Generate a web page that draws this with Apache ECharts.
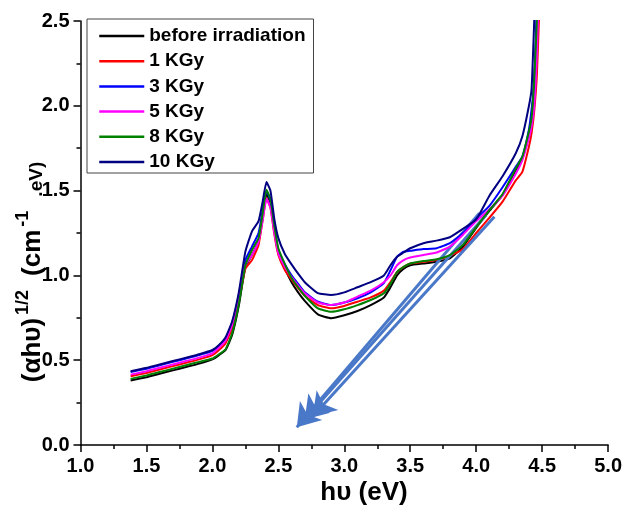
<!DOCTYPE html>
<html>
<head>
<meta charset="utf-8">
<script src="https://cdn.jsdelivr.net/npm/echarts@6/dist/echarts.min.js"></script>
<style>
  html, body { margin: 0; padding: 0; background: #fff; }
  #chart { width: 625px; height: 506px; }
</style>
</head>
<body>
<div id="chart"></div>
<script>
// Photon energy (eV)
const energy = [1.38, 1.5, 1.6, 1.7, 1.8, 1.9, 2.0, 2.05, 2.1, 2.15, 2.2, 2.25, 2.3, 2.35, 2.38, 2.41, 2.44, 2.47, 2.5, 2.55, 2.6, 2.65, 2.7, 2.8, 2.9, 3.0, 3.1, 3.2, 3.3, 3.35, 3.4, 3.45, 3.5, 3.6, 3.7, 3.8, 3.9, 4.0, 4.1, 4.2, 4.3, 4.35, 4.4, 4.42, 4.44, 4.46, 4.48];

// (alpha h nu)^(1/2) for each dose
const before = [0.38, 0.40, 0.42, 0.44, 0.46, 0.48, 0.505, 0.53, 0.56, 0.65, 0.82, 1.05, 1.12, 1.20, 1.34, 1.48, 1.43, 1.27, 1.14, 1.04, 0.96, 0.90, 0.85, 0.77, 0.748, 0.765, 0.79, 0.825, 0.87, 0.93, 1.00, 1.04, 1.06, 1.07, 1.08, 1.10, 1.17, 1.28, 1.38, 1.475, 1.62, 1.69, 1.84, 1.93, 2.15, 2.5, 2.9];
const kGy1 = [0.405, 0.425, 0.445, 0.465, 0.485, 0.505, 0.53, 0.56, 0.60, 0.69, 0.85, 1.04, 1.09, 1.18, 1.32, 1.455, 1.40, 1.24, 1.12, 1.03, 0.975, 0.925, 0.88, 0.825, 0.806, 0.82, 0.845, 0.87, 0.91, 0.96, 1.02, 1.05, 1.07, 1.08, 1.09, 1.115, 1.155, 1.25, 1.34, 1.435, 1.56, 1.61, 1.76, 1.84, 1.97, 2.18, 2.6];
const kGy3 = [0.43, 0.45, 0.47, 0.49, 0.51, 0.53, 0.555, 0.585, 0.625, 0.72, 0.88, 1.09, 1.17, 1.25, 1.38, 1.50, 1.44, 1.27, 1.15, 1.065, 1.00, 0.95, 0.90, 0.845, 0.825, 0.84, 0.865, 0.90, 0.955, 1.03, 1.11, 1.14, 1.145, 1.155, 1.16, 1.19, 1.25, 1.335, 1.41, 1.52, 1.64, 1.70, 1.86, 1.98, 2.13, 2.6, 3.0];
const kGy5 = [0.415, 0.435, 0.455, 0.475, 0.495, 0.515, 0.54, 0.575, 0.615, 0.71, 0.87, 1.06, 1.12, 1.20, 1.32, 1.45, 1.40, 1.25, 1.13, 1.05, 0.99, 0.94, 0.895, 0.84, 0.825, 0.84, 0.875, 0.91, 0.96, 1.00, 1.06, 1.09, 1.105, 1.12, 1.135, 1.17, 1.24, 1.32, 1.39, 1.47, 1.60, 1.68, 1.81, 1.88, 2.00, 2.30, 2.8];
const kGy8 = [0.39, 0.41, 0.43, 0.45, 0.47, 0.49, 0.51, 0.535, 0.565, 0.66, 0.83, 1.06, 1.15, 1.22, 1.36, 1.505, 1.45, 1.29, 1.16, 1.065, 0.985, 0.93, 0.88, 0.805, 0.785, 0.80, 0.825, 0.855, 0.895, 0.95, 1.02, 1.05, 1.07, 1.085, 1.095, 1.12, 1.18, 1.285, 1.385, 1.48, 1.63, 1.70, 1.85, 1.93, 2.15, 2.5, 2.9];
const kGy10 = [0.435, 0.455, 0.475, 0.495, 0.515, 0.535, 0.56, 0.59, 0.635, 0.73, 0.90, 1.14, 1.26, 1.32, 1.43, 1.55, 1.50, 1.33, 1.22, 1.125, 1.065, 1.01, 0.96, 0.895, 0.885, 0.90, 0.93, 0.96, 1.00, 1.06, 1.11, 1.135, 1.16, 1.19, 1.205, 1.225, 1.275, 1.33, 1.47, 1.585, 1.72, 1.82, 2.00, 2.10, 2.5, 2.9, 3.2];

const seriesNames = ['before irradiation', '1 KGy', '3 KGy', '5 KGy', '8 KGy', '10 KGy'];
const seriesValues = [before, kGy1, kGy3, kGy5, kGy8, kGy10];
const seriesColors = ['#000000', '#ff0000', '#0000ff', '#ff00ff', '#008000', '#000080'];

// Trend arrows: [tail energy, tail value, head energy, head value]
const trendArrows = [
  [4.024, 1.366, 2.640, 0.105],
  [4.075, 1.356, 2.700, 0.150],
  [4.138, 1.346, 2.760, 0.168]
];

const xTicks = [1.0, 5.0, 0.5];   // min, max, step
const yTicks = [0.0, 2.5, 0.5];

const FONT = 'Arial, "Liberation Sans", sans-serif';

const chart = echarts.init(document.getElementById('chart'), null, { renderer: 'canvas' });

const lineSeries = seriesNames.map((name, i) => ({
  name,
  type: 'line',
  data: energy.map((e, k) => [e, seriesValues[i][k]]),
  symbol: 'none',
  smooth: 0.15,
  clip: true,
  lineStyle: { color: seriesColors[i], width: 2 },
  itemStyle: { color: seriesColors[i] },
  z: 3 + i
}));

lineSeries.push({
  name: 'arrows',
  type: 'line',
  data: [],
  silent: true,
  markLine: {
    silent: true,
    symbol: ['none', 'arrow'],
    symbolSize: 22,
    label: { show: false },
    lineStyle: { color: '#4a78c8', width: 3, type: 'solid', opacity: 1 },
    itemStyle: { color: '#4a78c8' },
    emphasis: { disabled: true },
    data: trendArrows.map(a => [{ coord: [a[0], a[1]] }, { coord: [a[2], a[3]] }])
  },
  z: 10
});

const axisLine = { show: true, lineStyle: { color: '#000', width: 1.5 } };

chart.setOption({
  backgroundColor: '#fff',
  animation: false,
  grid: { left: 80.5, right: 16, top: 21, bottom: 61, containLabel: false },
  legend: {
    data: seriesNames,
    orient: 'vertical',
    left: 87,
    top: 19,
    backgroundColor: '#fff',
    borderColor: '#444',
    borderWidth: 1,
    borderRadius: 0,
    padding: [7, 8, 1, 11],
    itemWidth: 45,
    itemHeight: 14,
    itemGap: 5.2,
    itemStyle: { opacity: 0 },
    lineStyle: { width: 2.5 },
    textStyle: { fontFamily: FONT, fontSize: 19, fontWeight: 'bold', color: '#000', lineHeight: 20 },
    selectedMode: false
  },
  xAxis: {
    type: 'value',
    min: xTicks[0], max: xTicks[1], interval: xTicks[2],
    axisLine,
    axisTick: { show: true, inside: false, length: 7, lineStyle: { color: '#000', width: 1.5 } },
    minorTick: { show: true, splitNumber: 2, length: 4, lineStyle: { color: '#000', width: 1.5 } },
    splitLine: { show: false },
    axisLabel: {
      margin: 11, fontFamily: FONT, fontSize: 20, fontWeight: 'bold', color: '#000',
      formatter: v => v.toFixed(1)
    }
  },
  yAxis: {
    type: 'value',
    min: yTicks[0], max: yTicks[1], interval: yTicks[2],
    axisLine,
    axisTick: { show: true, inside: false, length: 7, lineStyle: { color: '#000', width: 1.5 } },
    minorTick: { show: true, splitNumber: 2, length: 4, lineStyle: { color: '#000', width: 1.5 } },
    splitLine: { show: false },
    axisLabel: {
      margin: 11, fontFamily: FONT, fontSize: 20, fontWeight: 'bold', color: '#000',
      formatter: v => v.toFixed(1)
    }
  },
  graphic: [
    {
      type: 'text',
      x: 364, y: 493,
      style: {
        text: 'h\u03c5 (eV)',
        font: 'bold 26px ' + FONT,
        fill: '#000',
        align: 'center',
        verticalAlign: 'middle'
      }
    },
    {
      type: 'text',
      x: 30, y: 272,
      rotation: Math.PI / 2,
      style: {
        text: '{m|(\u03b1h\u03c5)}{sup|1/2}{m|(cm}{sup|-1}{sub|.eV)}',
        align: 'center',
        verticalAlign: 'middle',
        fill: '#000',
        rich: {
          m: { fontFamily: FONT, fontSize: 26, fontWeight: 'bold', fill: '#000', verticalAlign: 'bottom', lineHeight: 32 },
          sup: { fontFamily: FONT, fontSize: 18, fontWeight: 'bold', fill: '#000', verticalAlign: 'top', lineHeight: 18, padding: [0, 14, 0, 3] },
          sub: { fontFamily: FONT, fontSize: 19, fontWeight: 'bold', fill: '#000', verticalAlign: 'bottom', lineHeight: 18 }
        }
      }
    }
  ],
  series: lineSeries
});
</script>
</body>
</html>
